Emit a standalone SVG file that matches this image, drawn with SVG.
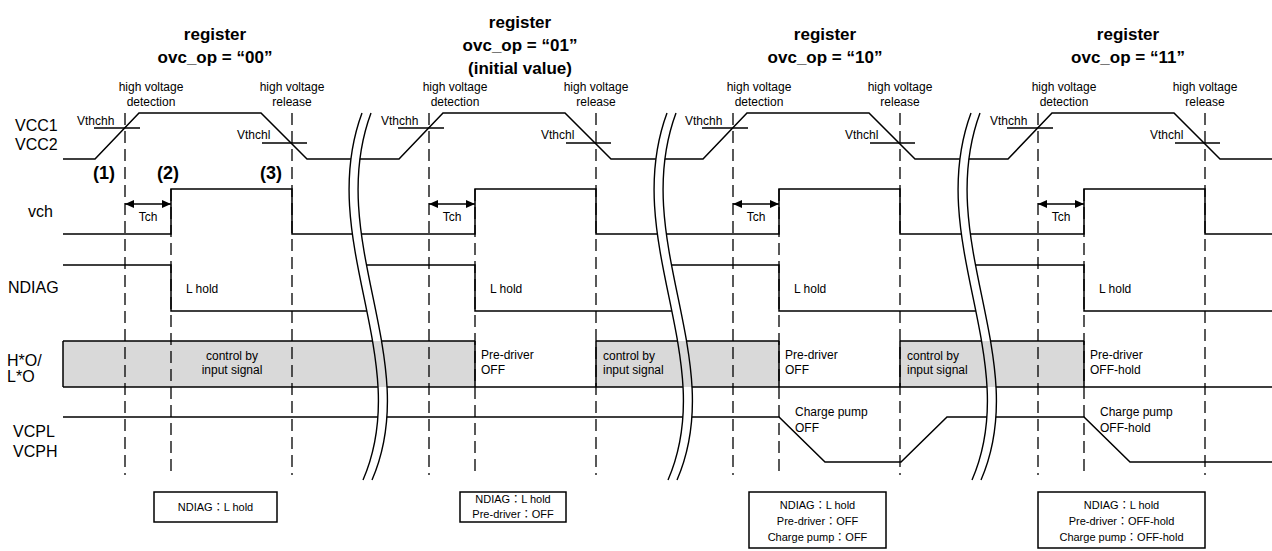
<svg xmlns="http://www.w3.org/2000/svg" xmlns:xlink="http://www.w3.org/1999/xlink" width="1272" height="551" viewBox="0 0 1272 551">
<style>
.ln{fill:none;stroke:#000;stroke-width:1.5}
.ds{fill:none;stroke:#000;stroke-width:1.3;stroke-dasharray:12 6}
.brk{fill:none;stroke:#000;stroke-width:1.4}
.grey{fill:#d9d9d9}
text{font-family:"Liberation Sans","Noto Sans CJK JP",sans-serif;fill:#000}
.t12{font-size:12px}
.c{text-anchor:middle}
.lab{font-size:16px}
.ttl{font-size:17px;font-weight:bold;text-anchor:middle}
.num{font-size:18px;font-weight:bold}
.bx{font-size:11px;text-anchor:middle}
.box{fill:#fff;stroke:#000;stroke-width:1.5}
</style>
<defs>
<path id="band" d="M362,113 C315,240 415,360 363,480 L372,480 C424,360 324,240 371,113 Z"/>
<mask id="brk" maskUnits="userSpaceOnUse" x="0" y="0" width="1272" height="551">
<rect width="1272" height="551" fill="#fff"/>
<use href="#band" fill="#000"/>
<use href="#band" x="305" fill="#000"/>
<use href="#band" x="609" fill="#000"/>
</mask>
<marker id="ah" markerUnits="userSpaceOnUse" markerWidth="9" markerHeight="8" viewBox="0 0 9 8" refX="9" refY="4" orient="auto-start-reverse">
<path d="M0,0 L9,4 L0,8 Z" fill="#000"/>
</marker>
<g id="brkShape">
<path class="brk" d="M362,113 C315,240 415,360 363,480"/>
<path class="brk" d="M371,113 C324,240 424,360 372,480"/>
</g>
</defs>
<rect width="1272" height="551" fill="#fff"/>

<g id="titles">
<text class="ttl" x="215" y="40">register</text>
<text class="ttl" x="215" y="63">ovc_op = &#8220;00&#8221;</text>
<text class="ttl" x="520" y="28">register</text>
<text class="ttl" x="520" y="51">ovc_op = &#8220;01&#8221;</text>
<text class="ttl" x="520" y="74">(initial value)</text>
<text class="ttl" x="825" y="40">register</text>
<text class="ttl" x="825" y="63">ovc_op = &#8220;10&#8221;</text>
<text class="ttl" x="1128" y="40">register</text>
<text class="ttl" x="1128" y="63">ovc_op = &#8220;11&#8221;</text>
</g>

<g id="signal-labels">
<text class="lab" x="15" y="131">VCC1</text>
<text class="lab" x="15" y="150">VCC2</text>
<text class="lab" x="28" y="217">vch</text>
<text class="lab" x="8" y="293">NDIAG</text>
<text class="lab" x="7" y="366">H*O/</text>
<text class="lab" x="7" y="382">L*O</text>
<text class="lab" x="13" y="437">VCPL</text>
<text class="lab" x="13" y="457">VCPH</text>
</g>

<g id="bus-fill">
<rect class="grey" x="63" y="341" width="412" height="46"/>
<rect class="grey" x="596" y="341" width="183" height="46"/>
<rect class="grey" x="900" y="341" width="184" height="46"/>
</g>

<g id="dashed">
<path class="ds" d="M125,113 V475 M292,113 V475 M171,189 V477 M429,113 V475 M596,113 V475 M475,189 V477 M733,113 V475 M900,113 V475 M779,189 V477 M1038,113 V475 M1205,113 V475 M1084,189 V477"/>
</g>

<g id="connectors">
<g id="signals" mask="url(#brk)">
<path id="vcc" class="ln" d="M63,159 H95 L139,113 H261 L307,159 H399 L443,113 H565 L611,159 H703 L747,113 H869 L915,159 H1008 L1052,113 H1174 L1220,159 H1272"/>
<path id="vch" class="ln" d="M63,234 H171 V189 H292 V234 H475 V189 H596 V234 H779 V189 H900 V234 H1084 V189 H1205 V234 H1272"/>
<path id="ndiag" class="ln" d="M63,265 H171 V311 H371 M361,265 H475 V311 H676 M666,265 H779 V311 H980 M970,265 H1084 V311 H1272"/>
<path id="bus" class="ln" d="M63,341 H475 M596,341 H779 M900,341 H1084 M63,387 H1272 M63,341 V387 M475,341 V387 M596,341 V387 M779,341 V387 M900,341 V387 M1084,341 V387"/>
<path id="vcpl" class="ln" d="M63,417 H779 L825,462 H901 L947,417 H1084 L1130,462 H1272"/>
</g>
<path id="thresholds" class="ln" d="M94,128 H140 M262,143 H307 M398,128 H444 M566,143 H611 M702,128 H748 M870,143 H915 M1007,128 H1053 M1175,143 H1220"/>
<g id="tch-arrows">
<line class="ln" x1="125" y1="204" x2="171" y2="204" marker-start="url(#ah)" marker-end="url(#ah)"/>
<line class="ln" x1="429" y1="204" x2="475" y2="204" marker-start="url(#ah)" marker-end="url(#ah)"/>
<line class="ln" x1="733" y1="204" x2="779" y2="204" marker-start="url(#ah)" marker-end="url(#ah)"/>
<line class="ln" x1="1038" y1="204" x2="1084" y2="204" marker-start="url(#ah)" marker-end="url(#ah)"/>
</g>
</g>

<g id="breaks">
<use href="#brkShape"/>
<use href="#brkShape" x="305"/>
<use href="#brkShape" x="609"/>
</g>

<g id="annotations" class="t12">
<text class="t12 c" x="151" y="91">high voltage</text>
<text class="t12 c" x="151" y="106">detection</text>
<text class="t12 c" x="292" y="91">high voltage</text>
<text class="t12 c" x="292" y="106">release</text>
<text class="t12 c" x="455" y="91">high voltage</text>
<text class="t12 c" x="455" y="106">detection</text>
<text class="t12 c" x="596" y="91">high voltage</text>
<text class="t12 c" x="596" y="106">release</text>
<text class="t12 c" x="759" y="91">high voltage</text>
<text class="t12 c" x="759" y="106">detection</text>
<text class="t12 c" x="900" y="91">high voltage</text>
<text class="t12 c" x="900" y="106">release</text>
<text class="t12 c" x="1064" y="91">high voltage</text>
<text class="t12 c" x="1064" y="106">detection</text>
<text class="t12 c" x="1205" y="91">high voltage</text>
<text class="t12 c" x="1205" y="106">release</text>

<text class="t12" x="77" y="125">Vthchh</text>
<text class="t12" x="237" y="139">Vthchl</text>
<text class="t12" x="381" y="125">Vthchh</text>
<text class="t12" x="541" y="139">Vthchl</text>
<text class="t12" x="685" y="125">Vthchh</text>
<text class="t12" x="845" y="139">Vthchl</text>
<text class="t12" x="990" y="125">Vthchh</text>
<text class="t12" x="1150" y="139">Vthchl</text>

<text class="num" x="93" y="179">(1)</text>
<text class="num" x="157" y="179">(2)</text>
<text class="num" x="260" y="179">(3)</text>

<text class="t12 c" x="148" y="221">Tch</text>
<text class="t12 c" x="452" y="221">Tch</text>
<text class="t12 c" x="756" y="221">Tch</text>
<text class="t12 c" x="1061" y="221">Tch</text>

<text class="t12" x="186" y="293">L hold</text>
<text class="t12" x="490" y="293">L hold</text>
<text class="t12" x="794" y="293">L hold</text>
<text class="t12" x="1099" y="293">L hold</text>

<text class="t12 c" x="232" y="360">control by</text>
<text class="t12 c" x="232" y="374">input signal</text>
<text class="t12" x="481" y="359">Pre-driver</text>
<text class="t12" x="481" y="374">OFF</text>
<text class="t12" x="603" y="360">control by</text>
<text class="t12" x="603" y="374">input signal</text>
<text class="t12" x="785" y="359">Pre-driver</text>
<text class="t12" x="785" y="374">OFF</text>
<text class="t12" x="907" y="360">control by</text>
<text class="t12" x="907" y="374">input signal</text>
<text class="t12" x="1090" y="359">Pre-driver</text>
<text class="t12" x="1090" y="374">OFF-hold</text>

<text class="t12" x="795" y="416">Charge pump</text>
<text class="t12" x="795" y="432">OFF</text>
<text class="t12" x="1100" y="416">Charge pump</text>
<text class="t12" x="1100" y="432">OFF-hold</text>
</g>

<g id="note1">
<rect class="box" x="154" y="492" width="123" height="30"/>
<text class="bx" x="215.5" y="511">NDIAG：L hold</text>
</g>
<g id="note2">
<rect class="box" x="460" y="492" width="106" height="30"/>
<text class="bx" x="513" y="503">NDIAG：L hold</text>
<text class="bx" x="513" y="518">Pre-driver：OFF</text>
</g>
<g id="note3">
<rect class="box" x="749" y="492" width="137" height="56"/>
<text class="bx" x="817.5" y="509">NDIAG：L hold</text>
<text class="bx" x="817.5" y="525">Pre-driver：OFF</text>
<text class="bx" x="817.5" y="541">Charge pump：OFF</text>
</g>
<g id="note4">
<rect class="box" x="1038" y="492" width="167" height="56"/>
<text class="bx" x="1121.5" y="509">NDIAG：L hold</text>
<text class="bx" x="1121.5" y="525">Pre-driver：OFF-hold</text>
<text class="bx" x="1121.5" y="541">Charge pump：OFF-hold</text>
</g>
</svg>
